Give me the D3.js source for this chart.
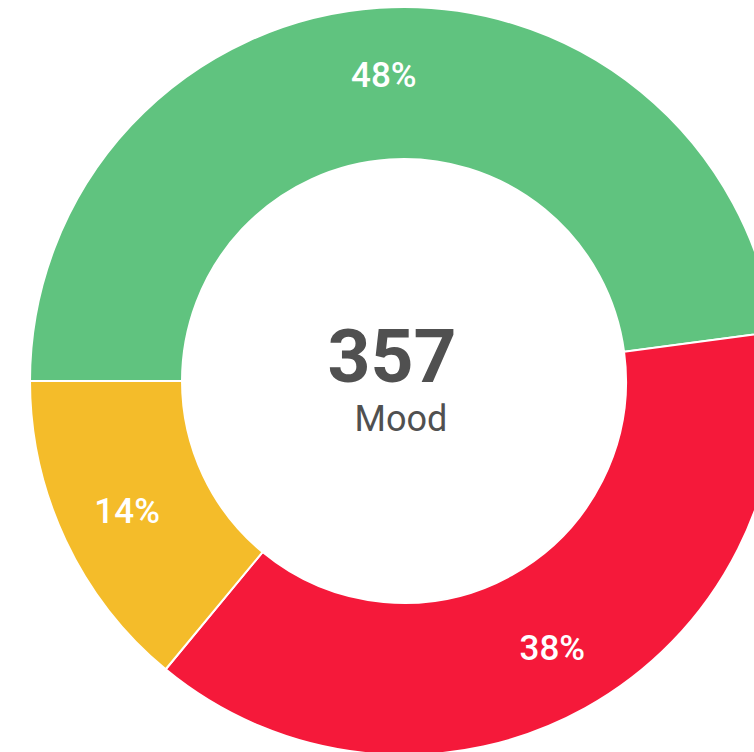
<!DOCTYPE html>
<html>
<head>
<meta charset="utf-8">
<script src="https://cdn.jsdelivr.net/npm/d3@7"></script>
<style>
  html, body { margin: 0; padding: 0; background: #ffffff; overflow: hidden; }
  svg { display: block; font-family: Roboto, "Noto Sans", Arial, sans-serif; }
</style>
</head>
<body>
<script>
// mood counts (total 357)
var categories = ['Good', 'Bad', 'Neutral'];
var values = [171, 136, 50];
var colors = ['#60c37f', '#f5193a', '#f4bc2a'];
var centerValue = '357';
var centerLabel = 'Mood';

var width = 754,
    height = 752;

var cx = 404, cy = 381;
var outerR = 374, innerR = 222;

var svg = d3.select('body').append('svg')
    .attr('width', width)
    .attr('height', height);

var total = d3.sum(values);

var pie = d3.pie()
    .sort(null)
    .startAngle(-Math.PI / 2)
    .endAngle(Math.PI * 1.5);

var arc = d3.arc()
    .innerRadius(innerR)
    .outerRadius(outerR);

var labelArc = d3.arc()
    .innerRadius(306)
    .outerRadius(306);

var g = svg.append('g')
    .attr('transform', 'translate(' + cx + ',' + cy + ')');

var slices = g.selectAll('path')
    .data(pie(values))
    .enter()
    .append('path')
    .attr('d', arc)
    .style('fill', function(d, i) { return colors[i]; })
    .style('stroke', '#ffffff')
    .style('stroke-width', '2px');

g.selectAll('text.pct')
    .data(pie(values))
    .enter()
    .append('text')
    .attr('class', 'pct')
    .attr('transform', function(d) { return 'translate(' + labelArc.centroid(d) + ')'; })
    .attr('text-anchor', 'middle')
    .attr('dominant-baseline', 'central')
    .style('fill', '#ffffff')
    .style('font-size', '35px')
    .style('font-weight', '500')
    .text(function(d) { return Math.round(d.value / total * 100) + '%'; });

// center text
g.append('text')
    .attr('x', -12)
    .attr('y', 1)
    .attr('text-anchor', 'middle')
    .style('fill', '#505050')
    .style('font-size', '75px')
    .style('font-weight', 'bold')
    .text(centerValue);

g.append('text')
    .attr('x', -3)
    .attr('y', 50)
    .attr('text-anchor', 'middle')
    .style('fill', '#505050')
    .style('font-size', '36px')
    .text(centerLabel);
</script>
</body>
</html>
